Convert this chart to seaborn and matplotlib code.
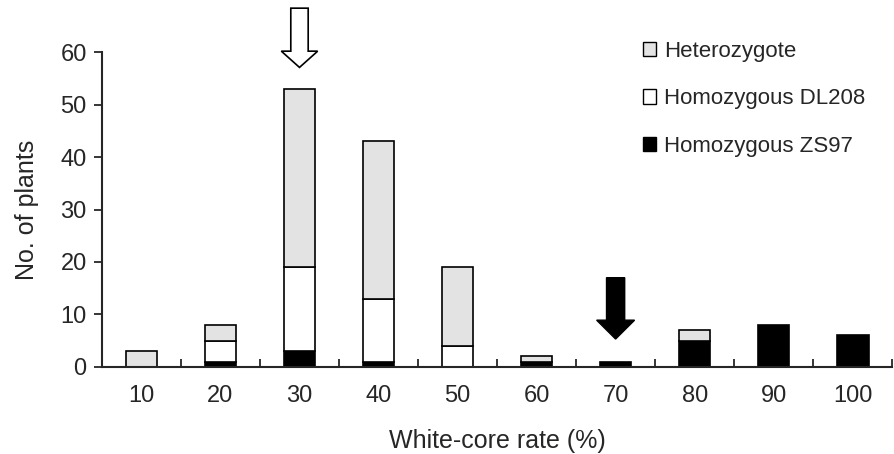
import numpy as np
import pandas as pd
import matplotlib
matplotlib.use("Agg")
import matplotlib.pyplot as plt
import seaborn as sns
from matplotlib.patches import Patch

# data
rates = ["10", "20", "30", "40", "50", "60", "70", "80", "90", "100"]
zs97 = [0, 1, 3, 1, 0, 1, 1, 5, 8, 6]
dl208 = [0, 4, 16, 12, 4, 0, 0, 0, 0, 0]
hetero = [3, 3, 34, 30, 15, 1, 0, 2, 0, 0]

sns.set_style("ticks")
plt.rcParams['font.family'] = ['Liberation Sans', 'DejaVu Sans']

df = pd.DataFrame({"rate": rates, "zs97": zs97, "dl208": dl208, "hetero": hetero})
df["b_dl"] = df["zs97"]
df["b_het"] = df["zs97"] + df["dl208"]

fig = plt.figure(figsize=(8.94, 4.54), dpi=100)
ax = fig.add_axes([0.114, 0.192, 0.884, 0.693])

bw = 0.4
sns.barplot(data=df, x="rate", y="zs97", color="black", edgecolor="black",
            linewidth=1.2, width=bw, saturation=1, ax=ax)
sns.barplot(data=df, x="rate", y="dl208", bottom=df["b_dl"], color="white",
            edgecolor="black", linewidth=1.2, width=bw, saturation=1, ax=ax)
sns.barplot(data=df, x="rate", y="hetero", bottom=df["b_het"], color="#e3e3e3",
            edgecolor="black", linewidth=1.2, width=bw, saturation=1, ax=ax)

# hide zero-height bars outlines
for p in ax.patches:
    if p.get_height() == 0:
        p.set_visible(False)

fs = 17
ax.set_xlim(-0.5, 9.5)
ax.set_ylim(0, 60)
ax.set_yticks(range(0, 61, 10))
ax.set_xticks(range(10))
ax.set_xticklabels(rates)
ax.set_xticks(np.arange(0.5, 10, 1), minor=True)
ax.tick_params(axis="x", which="major", length=0, labelsize=fs, pad=13)
ax.tick_params(axis="x", which="minor", direction="in", length=6, width=1.3)
ax.tick_params(axis="y", length=6, width=1.3, labelsize=fs, pad=5)
sns.despine(ax=ax)
for s in ["left", "bottom"]:
    ax.spines[s].set_linewidth(1.5)

ax.set_xlabel("White-core rate (%)", fontsize=18, labelpad=16)
ax.set_ylabel("No. of plants", fontsize=18, labelpad=15)

# open arrow above 30 and filled arrow above 70
ax.arrow(2, 68.4, 0, -11.3, width=0.22, head_width=0.46, head_length=3.1,
         length_includes_head=True, fc="white", ec="black", lw=1.2, clip_on=False)
ax.arrow(6, 17, 0, -11.7, width=0.23, head_width=0.48, head_length=3.6,
         length_includes_head=True, fc="black", ec="black", lw=1, clip_on=False)

handles = [Patch(fc="#e3e3e3", ec="black", lw=1, label="Heterozygote"),
           Patch(fc="white", ec="black", lw=1, label="Homozygous DL208"),
           Patch(fc="black", ec="black", lw=1, label="Homozygous ZS97")]
fig.legend(handles=handles, loc="upper left", bbox_to_anchor=(0.709, 0.93),
           frameon=False, fontsize=16, handlelength=0.6, handleheight=0.6,
           handletextpad=0.35, labelspacing=1.2, borderaxespad=0)

fig.savefig("out.png", dpi=100)
